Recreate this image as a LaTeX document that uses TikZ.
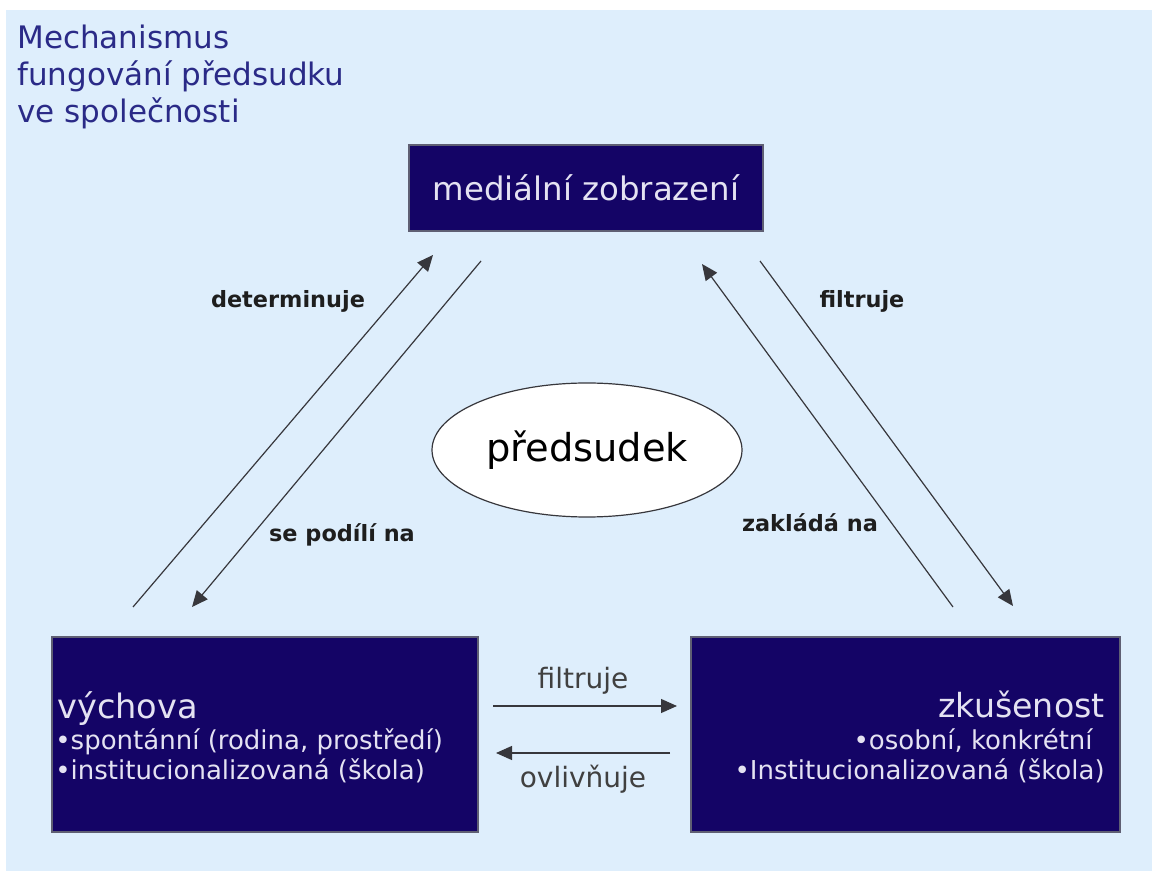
\documentclass[tikz,border=0pt]{standalone}
\usepackage{fontspec}
\setmainfont{DejaVu Sans}
\usetikzlibrary{arrows.meta,shapes.geometric}
\definecolor{bgblue}{RGB}{222,238,252}
\definecolor{navy}{RGB}{20,4,102}
\definecolor{titleblue}{RGB}{42,42,135}
\definecolor{boxtext}{RGB}{228,226,242}
\definecolor{linegray}{RGB}{55,55,60}
\definecolor{edgegray}{RGB}{95,95,115}
\definecolor{labelblack}{RGB}{30,30,30}
\begin{document}
\begin{tikzpicture}[x=0.5pt,y=-0.5pt,
  darkbox/.style={draw=edgegray,line width=0.6pt,fill=navy,inner sep=0pt,text=boxtext},
  boxfont/.style={text=boxtext,inner sep=0pt},
  conn/.style={draw=linegray,line width=0.6pt,-{Triangle[length=8pt,width=7pt]}},
  boldlabel/.style={font=\bfseries\fontsize{11.2}{13}\selectfont,text=labelblack,inner sep=0pt,anchor=base},
  plainlabel/.style={font=\fontsize{14}{16}\selectfont,text=labelblack!85,inner sep=0pt,anchor=base}]
\useasboundingbox (0,0) rectangle (1152,871);
\fill[white] (0,0) rectangle (1152,871);
\fill[bgblue] (6,10) rectangle (1152,871);

% title
\node[anchor=north west,inner sep=0pt,align=left,text=titleblue,
  font=\fontsize{15.5}{18.5}\selectfont] (title) at (17,25)
  {Mechanismus\\fungování předsudku\\ve společnosti};

% boxes
\node[darkbox,minimum width=177pt,minimum height=43pt,
  font=\fontsize{16.2}{18}\selectfont] (media) at (586,188) {mediální zobrazení};
\node[darkbox,minimum width=213pt,minimum height=97.5pt] (vych) at (265,734.5) {};
\node[darkbox,minimum width=214.5pt,minimum height=97.5pt] (zkus) at (905.5,734.5) {};

% ellipse
\node[ellipse,draw=linegray,line width=0.6pt,fill=white,minimum width=155pt,minimum height=67pt,
  inner sep=0pt,font=\fontsize{19.2}{21}\selectfont] (pred) at (587,450) {předsudek};

% box texts
\node[boxfont,anchor=base west,font=\fontsize{16.8}{18}\selectfont] (vychT) at (57,718) {výchova};
\node[boxfont,anchor=base west,font=\fontsize{13}{15}\selectfont] (vychA) at (55,749) {•spontánní (rodina, prostředí)};
\node[boxfont,anchor=base west,font=\fontsize{13}{15}\selectfont] (vychB) at (55,779) {•institucionalizovaná (škola)};
\node[boxfont,anchor=base east,font=\fontsize{16.6}{18}\selectfont] (zkusT) at (1105,717) {zkušenost};
\node[boxfont,anchor=base east,font=\fontsize{13}{15}\selectfont] (zkusA) at (1093,749) {•osobní, konkrétní};
\node[boxfont,anchor=base east,font=\fontsize{13}{15}\selectfont] (zkusB) at (1105,779) {•Institucionalizovaná (škola)};

% connector end points
\coordinate (detS) at (133,607);
\coordinate (detE) at (433,255);
\coordinate (podS) at (481,261);
\coordinate (podE) at (192,607);
\coordinate (zakS) at (953,607);
\coordinate (zakE) at (702,264);
\coordinate (filS) at (760,261);
\coordinate (filE) at (1013,606);
\coordinate (bfS) at (493,706);
\coordinate (bfE) at (677,706);
\coordinate (ovS) at (670,753);
\coordinate (ovE) at (496,753);

\draw[conn] (detS) -- (detE);
\draw[conn] (podS) -- (podE);
\draw[conn] (zakS) -- (zakE);
\draw[conn] (filS) -- (filE);
\draw[conn] (bfS) -- (bfE);
\draw[conn] (ovS) -- (ovE);

% labels
\node[boldlabel] (lDet) at (288,308) {determinuje};
\node[boldlabel] (lPod) at (342,542) {se podílí na};
\node[boldlabel] (lFil) at (862,308) {filtruje};
\node[boldlabel] (lZak) at (810,532) {zakládá na};
\node[plainlabel] (lBf) at (583,689) {filtruje};
\node[plainlabel] (lOv) at (583,787) {ovlivňuje};
\end{tikzpicture}
\end{document}
